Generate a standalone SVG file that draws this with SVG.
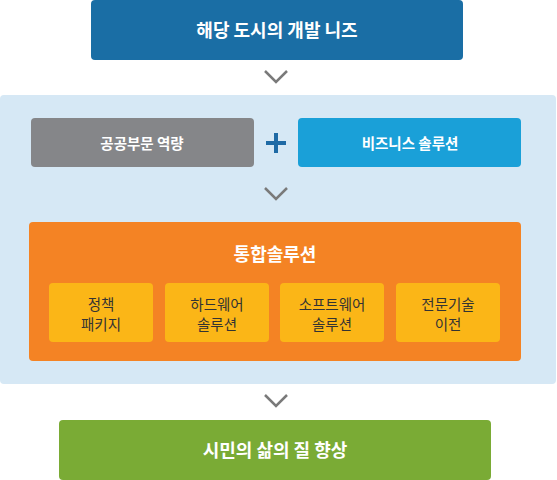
<svg xmlns="http://www.w3.org/2000/svg" width="557" height="480" viewBox="0 0 557 480">
<style>
text{font-family:"Noto Sans CJK KR","Noto Sans",sans-serif;text-anchor:middle;dominant-baseline:central}
.w{fill:#fff;font-weight:bold}
.b15{font-size:18px}
.b13{font-size:14.5px}
.s{fill:#333;font-size:14.5px}
.chev{fill:none;stroke:#7a7a7a;stroke-width:2.5}
</style>
<rect x="0" y="95" width="556" height="289" rx="4" fill="#d6e8f5"/>
<g id="connectors">
<polyline class="chev" points="265,71 276,82 287,71"/>
<polyline class="chev" points="265,188 276,199 287,188"/>
<polyline class="chev" points="265,395 276,406 287,395"/>
<path d="M266,143H286M276,133V153" stroke="#1e6aa5" stroke-width="4"/>
</g>
<g id="needs"><rect x="91" y="0" width="372" height="60" rx="4" fill="#1a6ea5"/><text class="w b15" x="277" y="29">해당 도시의 개발 니즈</text></g>
<g id="public"><rect x="31" y="118" width="223" height="49" rx="4" fill="#858689"/><text class="w b13" x="142" y="142">공공부문 역량</text></g>
<g id="business"><rect x="298" y="118" width="223" height="49" rx="4" fill="#1aa0d8"/><text class="w b13" x="410" y="142">비즈니스 솔루션</text></g>
<g id="integrated"><rect x="29" y="222" width="492" height="139" rx="4" fill="#f48324"/><text class="w b15" x="275" y="253">통합솔루션</text></g>
<g id="policy"><rect x="49" y="283" width="104" height="59" rx="4" fill="#fbb617"/><text class="s" x="101" y="303">정책</text><text class="s" x="101" y="323">패키지</text></g>
<g id="hardware"><rect x="165" y="283" width="104" height="59" rx="4" fill="#fbb617"/><text class="s" x="217" y="303">하드웨어</text><text class="s" x="217" y="323">솔루션</text></g>
<g id="software"><rect x="280" y="283" width="104" height="59" rx="4" fill="#fbb617"/><text class="s" x="332" y="303">소프트웨어</text><text class="s" x="332" y="323">솔루션</text></g>
<g id="tech"><rect x="396" y="283" width="104" height="59" rx="4" fill="#fbb617"/><text class="s" x="448" y="303">전문기술</text><text class="s" x="448" y="323">이전</text></g>
<g id="quality"><rect x="59" y="420" width="432" height="60" rx="4" fill="#7aab35"/><text class="w b15" x="275" y="449">시민의 삶의 질 향상</text></g>
</svg>
